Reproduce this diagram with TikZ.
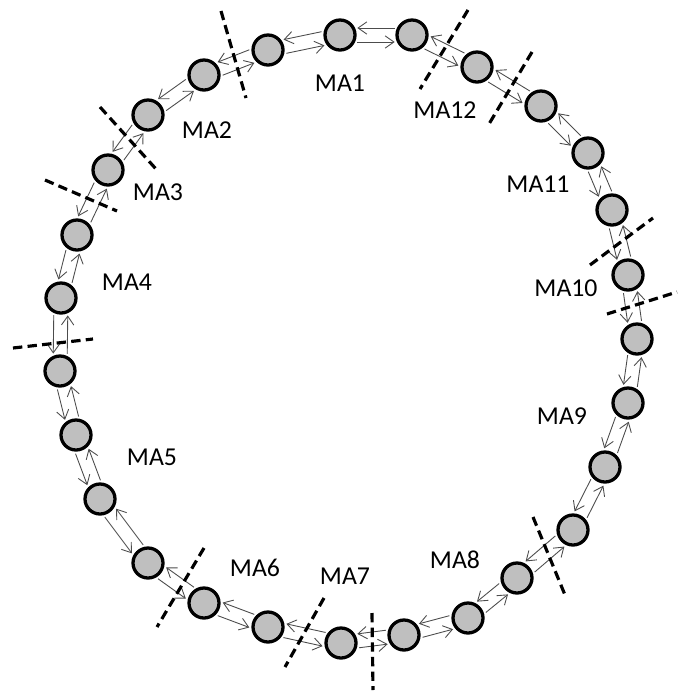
\documentclass[tikz,border=0pt]{standalone}
\usepackage{fontspec}
\setmainfont{Carlito}
\usepackage{tikz}
\usetikzlibrary{calc,arrows.meta}

\tikzset{
  agent/.style = {draw, circle, fill=black!25, line width=2.8pt, minimum size=0.9cm, inner sep=0pt},
  link/.style = {draw=black!70, line width=0.75pt},
  cut/.style = {draw, line width=2.7pt, dash pattern=on 8pt off 4.5pt},
  area/.style = {font=\fontsize{22}{26}\selectfont}
}

\begin{document}
\begin{tikzpicture}[x=0.03cm, y=-0.03cm, >={Straight Barb[length=7.5pt,width=10.5pt]}]
        \useasboundingbox (0,0) rectangle (683,693);

        % agents round the ring, counterclockwise from the top
        \foreach \i/\px/\py in {1/340/35, 2/268/50, 3/204/75, 4/148/115, 5/108/170,
                6/77/235, 7/61/298, 8/60/371, 9/76/435, 10/100/499, 11/148/563,
                12/204/603, 13/268/627, 14/341/643, 15/404/635, 16/468/618,
                17/517/578, 18/573/530, 19/605/467, 20/628/403, 21/637/339,
                22/628/275, 23/612/210, 24/588/153, 25/541/106, 26/477/67, 27/412/35}
        {
            \node[agent] (n\i) at (\px,\py) {};
        }

        % two links between neighbours
        \foreach \i in {1,...,27} {
            \pgfmathtruncatemacro{\j}{mod(\i,27)+1}
            \path[link,->] ($(n\i)!0.52cm!(n\j)!0.21cm!-90:(n\j)$) -- ($(n\j)!0.52cm!(n\i)!0.21cm!90:(n\i)$);
            \path[link,->] ($(n\j)!0.52cm!(n\i)!0.21cm!-90:(n\i)$) -- ($(n\i)!0.52cm!(n\j)!0.21cm!90:(n\j)$);
        }

        % area borders
        \path[cut] (468,10) -- (420,89);
        \path[cut] (221,11) -- (246,98);
        \path[cut] (100,107) -- (156,169);
        \path[cut] (45,180) -- (117,211);
        \path[cut] (13,348) -- (93,339);
        \path[cut] (204,548) -- (157,627);
        \path[cut] (324,598) -- (285,667);
        \path[cut] (372,613) -- (373,690);
        \path[cut] (533,517) -- (565,595);
        \path[cut] (607,314) -- (677,292);
        \path[cut] (590,265) -- (653,218);
        \path[cut] (532,52) -- (489,124);

        % area names
        \node[area] (ma1) at (340,83) {MA1};
        \node[area] (ma2) at (207,130) {MA2};
        \node[area] (ma3) at (158,192) {MA3};
        \node[area] (ma4) at (127,282) {MA4};
        \node[area] (ma5) at (152,457) {MA5};
        \node[area] (ma6) at (255,568) {MA6};
        \node[area] (ma7) at (345,576) {MA7};
        \node[area] (ma8) at (455,560) {MA8};
        \node[area] (ma9) at (562,416) {MA9};
        \node[area] (ma10) at (566,288) {MA10};
        \node[area] (ma11) at (538,184) {MA11};
        \node[area] (ma12) at (445,110) {MA12};
\end{tikzpicture}
\end{document}
